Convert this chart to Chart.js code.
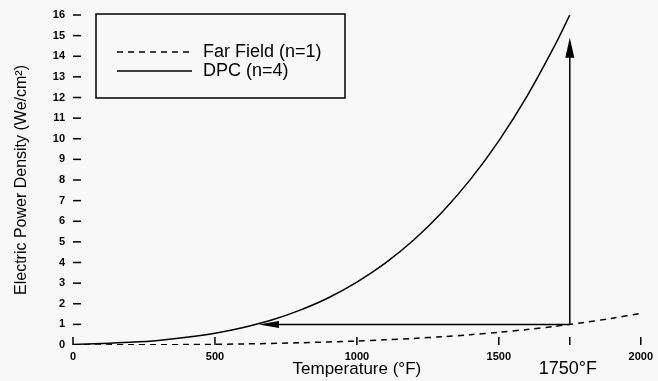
<!DOCTYPE html>
<html>
<head>
<meta charset="utf-8">
<script src="https://cdn.jsdelivr.net/npm/chart.js@4/dist/chart.umd.min.js"></script>
<style>
  html, body { margin: 0; padding: 0; background: #f8f8f8; }
  #wrap { width: 658px; height: 381px; }
</style>
</head>
<body>
<div id="wrap"><canvas id="myChart" width="658" height="381"></canvas></div>
<script>
// temperatures (deg F)
var dpcTemps = [0, 100, 200, 300, 400, 500, 600, 700, 800, 900, 1000, 1100, 1200, 1300, 1400, 1500, 1600, 1700, 1750];
var dpcValues = [0.03, 0.07, 0.13, 0.22, 0.37, 0.57, 0.85, 1.21, 1.69, 2.29, 3.05, 3.97, 5.09, 6.44, 8.03, 9.90, 12.08, 14.60, 16.0];

var farTemps = [0, 200, 400, 600, 800, 1000, 1100, 1200, 1300, 1400, 1500, 1600, 1700, 1750, 1800, 1900, 2000];
var farValues = [0.00, 0.01, 0.02, 0.05, 0.11, 0.19, 0.25, 0.32, 0.40, 0.50, 0.62, 0.75, 0.91, 1.00, 1.09, 1.30, 1.53];

var xTicks = [0, 500, 1000, 1500, 1750, 2000];
var xTickLabels = ['0', '500', '1000', '1500', '', '2000'];
var yTicks = [0, 1, 2, 3, 4, 5, 6, 7, 8, 9, 10, 11, 12, 13, 14, 15, 16];

// annotation arrows
var upArrow = { x: 1750, from: 1.0, to: 14.9 };
var leftArrow = { y: 1.0, from: 1750, to: 655 };
var markLabel = '1750°F';

function toPoints(xs, ys){
  return xs.map(function(x, i){ return { x: x, y: ys[i] }; });
}

var farDataSet = {
  label: 'Far Field (n=1)',
  data: toPoints(farTemps, farValues),
  borderColor: '#000',
  borderWidth: 1.5,
  borderDash: [6, 5],
  pointRadius: 0,
  tension: 0.3,
  fill: false
};

var dpcDataSet = {
  label: 'DPC (n=4)',
  data: toPoints(dpcTemps, dpcValues),
  borderColor: '#000',
  borderWidth: 1.5,
  pointRadius: 0,
  tension: 0.3,
  fill: false
};

function arrowHead(ctx, tipX, tipY, dirX, dirY, len, half){
  var bx = tipX - dirX * len, by = tipY - dirY * len;
  ctx.beginPath();
  ctx.moveTo(tipX, tipY);
  ctx.lineTo(bx - dirY * half, by + dirX * half);
  ctx.lineTo(bx + dirY * half, by - dirX * half);
  ctx.closePath();
  ctx.fill();
}

var extras = {
  id: 'extras',
  afterDatasetsDraw: function(chart){
    var ctx = chart.ctx;
    var xs = chart.scales.x, ys = chart.scales.y;
    var area = chart.chartArea;
    ctx.save();
    ctx.strokeStyle = '#000';
    ctx.fillStyle = '#000';

    // inward tick marks
    ctx.lineWidth = 1.5;
    yTicks.forEach(function(v){
      var py = ys.getPixelForValue(v);
      if (v === 0) return;
      ctx.beginPath();
      ctx.moveTo(area.left, py);
      ctx.lineTo(area.left + 8, py);
      ctx.stroke();
    });
    xTicks.forEach(function(v){
      var px = xs.getPixelForValue(v);
      ctx.beginPath();
      ctx.moveTo(px, area.bottom);
      ctx.lineTo(px, area.bottom - 8);
      ctx.stroke();
    });

    // vertical arrow
    var ax = xs.getPixelForValue(upArrow.x);
    var y0 = ys.getPixelForValue(upArrow.from);
    var y1 = ys.getPixelForValue(upArrow.to);
    ctx.lineWidth = 1.5;
    ctx.beginPath();
    ctx.moveTo(ax, y0);
    ctx.lineTo(ax, y1 + 18);
    ctx.stroke();
    arrowHead(ctx, ax, y1, 0, -1, 20, 4.5);

    // horizontal arrow
    var hy = ys.getPixelForValue(leftArrow.y);
    var x0 = xs.getPixelForValue(leftArrow.from);
    var x1 = xs.getPixelForValue(leftArrow.to);
    ctx.beginPath();
    ctx.moveTo(x0, hy);
    ctx.lineTo(x1 + 18, hy);
    ctx.stroke();
    arrowHead(ctx, x1, hy, -1, 0, 20, 3.5);

    // 1750 F label
    ctx.font = '18px "Liberation Sans", Arial, sans-serif';
    ctx.textAlign = 'center';
    ctx.textBaseline = 'middle';
    ctx.fillText(markLabel, ax - 2, 369);

    // legend box
    ctx.lineWidth = 1.5;
    ctx.strokeRect(96, 14, 249, 84);
    chart.data.datasets.forEach(function(ds, i){
      var ly = 52 + i * 19;
      ctx.setLineDash(ds.borderDash || []);
      ctx.beginPath();
      ctx.moveTo(117, ly);
      ctx.lineTo(192, ly);
      ctx.stroke();
      ctx.setLineDash([]);
      ctx.font = '18px "Liberation Sans", Arial, sans-serif';
      ctx.textAlign = 'left';
      ctx.fillText(ds.label, 203, ly);
    });
    ctx.restore();
  }
};

window.onload = function(){
  var ctx = document.getElementById('myChart').getContext('2d');
  new Chart(ctx, {
    type: 'line',
    data: { datasets: [farDataSet, dpcDataSet] },
    plugins: [extras],
    options: {
      responsive: false,
      animation: false,
      layout: { padding: { top: 15, right: 14, left: 0, bottom: 0 } },
      plugins: { legend: { display: false }, tooltip: { enabled: false } },
      scales: {
        x: {
          type: 'linear',
          min: 0,
          max: 2000,
          afterBuildTicks: function(scale){
            scale.ticks = xTicks.map(function(v){ return { value: v }; });
          },
          afterFit: function(scale){ scale.height = 36; },
          grid: { display: false, drawTicks: false },
          border: { display: false },
          ticks: {
            autoSkip: false,
            maxRotation: 0,
            padding: 5,
            color: '#000',
            font: { family: 'Liberation Sans', size: 11, weight: 'bold' },
            callback: function(v){
              var i = xTicks.indexOf(v);
              return i >= 0 ? xTickLabels[i] : '';
            }
          },
          title: {
            display: true,
            text: 'Temperature (°F)',
            color: '#000',
            font: { family: 'Liberation Sans', size: 17 },
            padding: { top: 0, bottom: 1 }
          }
        },
        y: {
          min: 0,
          max: 16,
          afterBuildTicks: function(scale){
            scale.ticks = yTicks.map(function(v){ return { value: v }; });
          },
          afterFit: function(scale){ scale.width = 73; },
          grid: { display: false, drawTicks: false },
          border: { display: false },
          ticks: {
            padding: 8,
            color: '#000',
            font: { family: 'Liberation Sans', size: 11, weight: 'bold' }
          },
          title: {
            display: true,
            text: 'Electric Power Density (We/cm²)',
            color: '#000',
            font: { family: 'Liberation Sans', size: 16 },
            padding: { top: 12, bottom: 0 }
          }
        }
      }
    }
  });
};
</script>
</body>
</html>
